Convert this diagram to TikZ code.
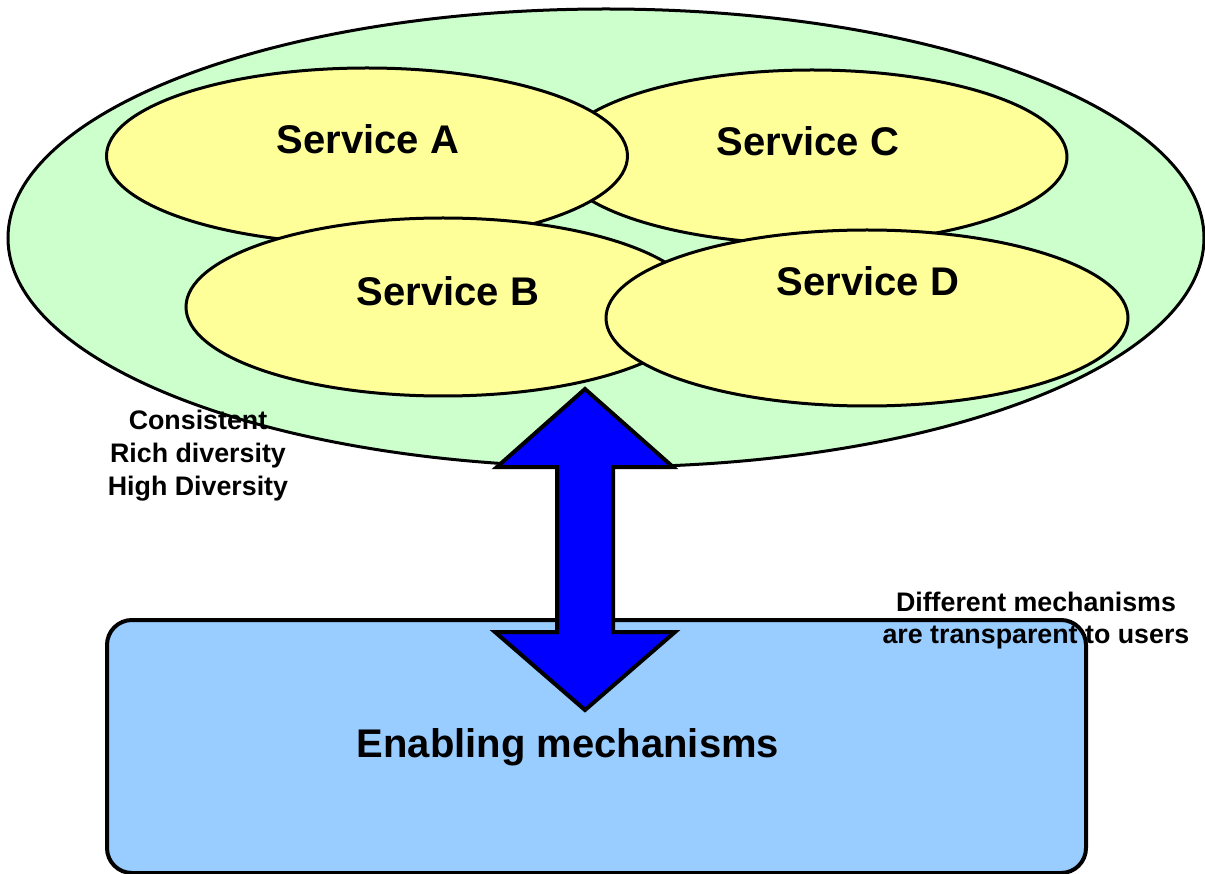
\documentclass[tikz,border=0pt]{standalone}
\usepackage{fontspec}
\setmainfont{Liberation Sans}
\usetikzlibrary{shapes.geometric}
\definecolor{outergreen}{HTML}{CCFFCC}
\definecolor{svcyellow}{HTML}{FFFF99}
\definecolor{basebox}{HTML}{99CCFF}
\definecolor{arrowblue}{HTML}{0000FF}
\tikzset{
  outer/.style={ellipse, draw=black, line width=3pt, fill=outergreen, inner sep=0pt},
  service/.style={ellipse, draw=black, line width=3pt, fill=svcyellow, inner sep=0pt},
  svclabel/.style={font=\fontsize{40}{45}\selectfont\bfseries, inner sep=0pt},
  notelabel/.style={font=\fontsize{26.8}{33}\selectfont\bfseries, align=center, inner sep=0pt},
  bigarrow/.style={draw=black, line width=4pt, fill=arrowblue, line join=miter},
  mechbox/.style={draw=black, line width=4pt, fill=basebox, rounded corners=25pt}
}
\begin{document}
\begin{tikzpicture}[x=1pt,y=-1pt]
\useasboundingbox (0,0) rectangle (1205,874);
% outer ellipse
\node[outer, minimum width=1196pt, minimum height=458pt] (all) at (606,238) {};
% services
\node[service, minimum width=510pt, minimum height=174pt] (svcC) at (812,157) {};
\node[service, minimum width=521pt, minimum height=176pt] (svcA) at (367,156) {};
\node[service, minimum width=514pt, minimum height=178pt] (svcB) at (443,307) {};
\node[service, minimum width=522pt, minimum height=176pt] (svcD) at (867,318) {};
\node[svclabel] (tA) at (368,139) {Service A};
\node[svclabel] (tC) at (808,141) {Service C};
\node[svclabel] (tB) at (448,291) {Service B};
\node[svclabel] (tD) at (868,281) {Service D};
% notes
\node[notelabel] (left) at (198,456) {Consistent\\Rich diversity\\High Diversity};
% base box
\draw[mechbox] (107,620) rectangle (1086,873);
\node[svclabel, font=\fontsize{40}{45}\selectfont\bfseries] (mech) at (568,747) {Enabling mechanisms};
\node[notelabel, font=\fontsize{26.8}{32}\selectfont\bfseries] (right) at (1036,621) {Different mechanisms\\are transparent to users};
% double arrow
\draw[bigarrow] (585,389) -- (673,467) -- (613,467) -- (613,632) -- (675,632)
  -- (585,710) -- (495,632) -- (557,632) -- (557,467) -- (497,467) -- cycle;
\end{tikzpicture}
\end{document}
